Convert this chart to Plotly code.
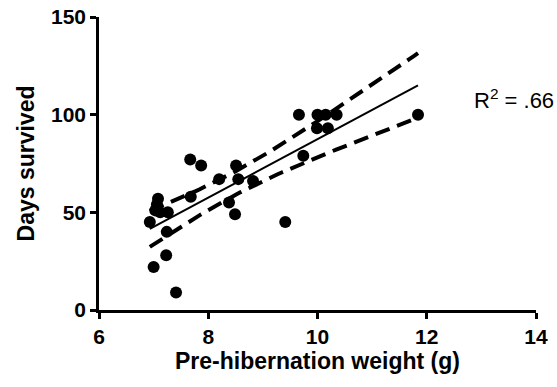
import numpy as np
import plotly.graph_objects as go

# Data
weight_g = [7.67, 7.87, 8.51, 8.20, 8.55, 8.82, 7.68, 7.08, 7.06, 7.03, 7.26, 7.12,
            6.93, 8.38, 8.49, 7.24, 7.23, 7.00, 7.41,
            9.66, 10.00, 10.15, 10.35, 9.99, 10.19, 9.74, 11.84, 9.41]
days = [77, 74, 74, 67, 67, 66, 58, 57, 54, 51, 50, 50,
        45, 55, 49, 40, 28, 22, 9,
        100, 100, 100, 100, 93, 93, 79, 100, 45]

x = np.array(weight_g)
y = np.array(days)
n = len(x)
slope, intercept = np.polyfit(x, y, 1)
xs = np.linspace(x.min(), x.max(), 60)
yhat = slope * xs + intercept
resid = y - (slope * x + intercept)
s = np.sqrt(np.sum(resid**2) / (n - 2))
sxx = np.sum((x - x.mean())**2)
tcrit = 2.056  # t(0.975, 26)
half = tcrit * s * np.sqrt(1 / n + (xs - x.mean())**2 / sxx)

FONT = "Liberation Sans, Arial, sans-serif"

fig = go.Figure()
fig.add_trace(go.Scatter(x=xs, y=yhat + half, mode="lines",
                         line=dict(color="black", width=4, dash="15px,8px"), hoverinfo="skip"))
fig.add_trace(go.Scatter(x=xs, y=yhat - half, mode="lines",
                         line=dict(color="black", width=4, dash="15px,8px"), hoverinfo="skip"))
fig.add_trace(go.Scatter(x=xs, y=yhat, mode="lines",
                         line=dict(color="black", width=2), hoverinfo="skip"))
fig.add_trace(go.Scatter(x=weight_g, y=days, mode="markers",
                         marker=dict(color="black", size=12)))

title_font = dict(family=FONT, size=23, color="black", weight="bold")
tick_font = dict(family=FONT, size=21, color="black", weight="bold")
fig.update_layout(
    width=557, height=387,
    margin=dict(l=99, r=21, t=17, b=77),
    plot_bgcolor="white", paper_bgcolor="white",
    showlegend=False,
    font=dict(family=FONT, color="black"),
)
fig.update_xaxes(range=[6, 14], tickvals=[6, 8, 10, 12, 14], showgrid=False, zeroline=False,
                 showline=True, linecolor="black", linewidth=2.5, ticks="outside",
                 ticklen=6, tickwidth=2.5, tickcolor="black", automargin=False,
                 tickfont=tick_font, ticklabeloverflow="allow",
                 title=dict(text="Pre-hibernation weight (g)", font=title_font, standoff=4))
fig.update_yaxes(range=[0, 150], tickvals=[0, 50, 100, 150], showgrid=False, zeroline=False,
                 showline=True, linecolor="black", linewidth=2.5, ticks="outside",
                 ticklen=6, tickwidth=2.5, tickcolor="black", automargin=False,
                 tickfont=tick_font, ticklabeloverflow="allow",
                 title=dict(text="Days survived", font=title_font, standoff=10))
fig.add_annotation(x=12.83, y=108, xref="x", yref="y", text="R<sup>2</sup> = .66",
                   showarrow=False, xanchor="left", yanchor="middle",
                   font=dict(family=FONT, size=22, color="black"))
fig.write_html("out.html", config={"displayModeBar": False},
               post_script="document.body.style.margin='0px';document.body.style.padding='0px';")
